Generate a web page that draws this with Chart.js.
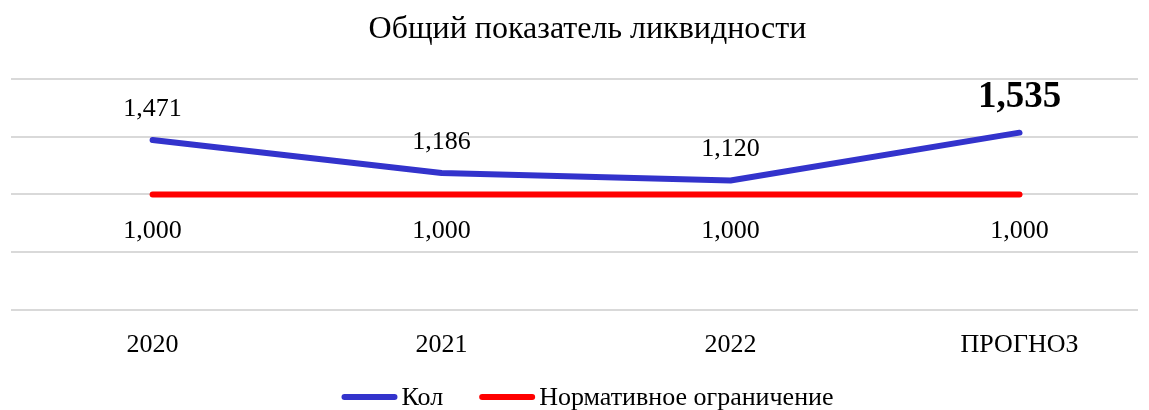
<!DOCTYPE html>
<html><head><meta charset="utf-8">
<script src="https://cdn.jsdelivr.net/npm/chart.js@4/dist/chart.umd.min.js"></script>
<style>html,body{margin:0;padding:0;background:#fff}#wrap{width:1149px;height:410px}</style>
</head><body><div id="wrap"><canvas id="c" width="1149" height="410"></canvas></div>
<script>
const categories = ['2020', '2021', '2022', 'ПРОГНОЗ'];
const kolValues = [1.471, 1.186, 1.120, 1.535];
const normValues = [1.000, 1.000, 1.000, 1.000];
const seriesNames = ['Кол', 'Нормативное ограничение'];
const titleText = 'Общий показатель ликвидности';

const FONT = "'Liberation Serif', 'Times New Roman', serif";
const fmt = v => v.toFixed(3).replace('.', ',');
const CENTER_X = 587.5;

const labelPlugin = {
  id: 'valLabels',
  afterDatasetsDraw(chart) {
    const ctx = chart.ctx;
    ctx.save();
    ctx.textAlign = 'center';
    ctx.textBaseline = 'middle';
    ctx.fillStyle = '#000';
    chart.data.datasets.forEach((ds, di) => {
      const meta = chart.getDatasetMeta(di);
      meta.data.forEach((pt, i) => {
        const v = ds.data[i].y;
        let dy, font;
        if (di === 0) {
          if (i === 3) { font = 'bold 37px ' + FONT; dy = -35; }
          else { font = '26px ' + FONT; dy = -31; }
        } else { font = '26px ' + FONT; dy = 37; }
        ctx.font = font;
        ctx.fillText(fmt(v), pt.x, pt.y + dy);
      });
    });
    ctx.restore();
  }
};

const titleLegendPlugin = {
  id: 'titleLegend',
  afterDraw(chart) {
    const ctx = chart.ctx;
    ctx.save();
    ctx.font = '32px ' + FONT;
    ctx.fillStyle = '#000';
    ctx.textAlign = 'center';
    ctx.textBaseline = 'middle';
    ctx.fillText(titleText, CENTER_X, 30);
    const y = 397, lineW = 56, gapText = 4, gapItem = 36;
    ctx.font = '26px ' + FONT;
    const items = chart.data.datasets.map(ds => ({ label: ds.label, color: ds.borderColor, tw: ctx.measureText(ds.label).width }));
    let total = items.reduce((s, it) => s + lineW + gapText + it.tw, 0) + gapItem * (items.length - 1);
    let x = CENTER_X - total / 2;
    ctx.textAlign = 'left';
    items.forEach(it => {
      ctx.strokeStyle = it.color;
      ctx.lineWidth = 6;
      ctx.lineCap = 'round';
      ctx.beginPath();
      ctx.moveTo(x + 3, y);
      ctx.lineTo(x + lineW - 3, y);
      ctx.stroke();
      ctx.fillStyle = '#000';
      ctx.fillText(it.label, x + lineW + gapText, y + 1);
      x += lineW + gapText + it.tw + gapItem;
    });
    ctx.restore();
  }
};

new Chart(document.getElementById('c'), {
  type: 'line',
  data: {
    datasets: [
      { label: seriesNames[0], data: kolValues.map((v, i) => ({x: i, y: v})),
        borderColor: '#3333CC', backgroundColor: '#3333CC', borderWidth: 6,
        borderCapStyle: 'round', borderJoinStyle: 'round', pointRadius: 0, tension: 0 },
      { label: seriesNames[1], data: normValues.map((v, i) => ({x: i, y: v})),
        borderColor: '#FF0000', backgroundColor: '#FF0000', borderWidth: 6,
        borderCapStyle: 'round', borderJoinStyle: 'round', pointRadius: 0, tension: 0 }
    ]
  },
  options: {
    responsive: false, animation: false,
    layout: { padding: { left: 11, right: 11, top: 79, bottom: 29 } },
    plugins: {
      title: { display: false },
      legend: { display: false },
      tooltip: { enabled: false }
    },
    scales: {
      x: { type: 'linear', min: -0.49, max: 3.41,
        grid: { display: false, drawTicks: false }, border: { display: false },
        ticks: { stepSize: 1, autoSkip: false, color: '#000', padding: 20,
          font: { family: FONT, size: 26 },
          callback: v => (Number.isInteger(v) && categories[v] !== undefined) ? categories[v] : null } },
      y: { min: 0, max: 2, ticks: { display: false, stepSize: 0.5 },
        grid: { color: '#d9d9d9', lineWidth: 2, drawTicks: false }, border: { display: false } }
    }
  },
  plugins: [labelPlugin, titleLegendPlugin]
});
</script></body></html>
